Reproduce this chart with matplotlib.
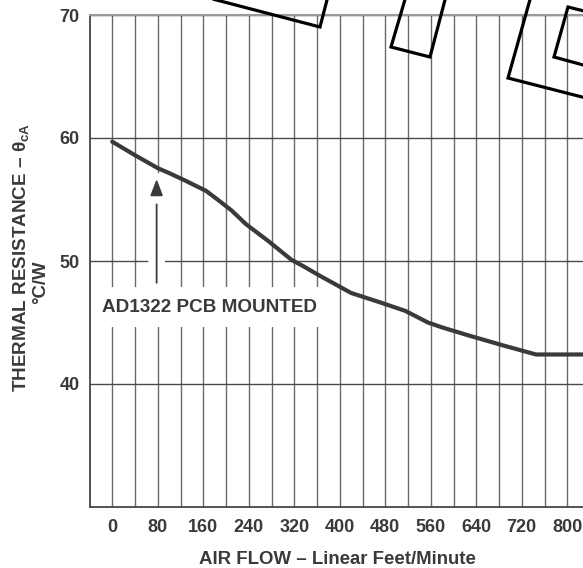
import matplotlib
matplotlib.use("Agg")
import matplotlib.pyplot as plt
from matplotlib.patches import Polygon
import matplotlib.patheffects as pe

# ---- data ----
air_flow = [0, 40, 80, 100, 130, 165, 185, 210, 235, 275, 315, 335, 365, 420,
            470, 515, 555, 580, 630, 690, 745, 880]
theta_ca = [59.7, 58.6, 57.55, 57.15, 56.5, 55.7, 55.0, 54.1, 53.0, 51.6, 50.1,
            49.6, 48.8, 47.4, 46.65, 45.95, 45.0, 44.6, 43.9, 43.1, 42.4, 42.4]
x_tick_labels = [0, 80, 160, 240, 320, 400, 480, 560, 640, 720, 800]
y_tick_labels = [40, 50, 60, 70]
annotation_text = "AD1322 PCB MOUNTED"
annotation_xy = (78, 56.9)
annotation_text_xy = (171, 46.25)

# decorative outline shapes overlaid on the scan (figure pixel coords)
overlay_shapes = [
    [(205, -3), (320, 27), (328, -4)],
    [(406, -4), (391, 47), (430, 57), (446, -4)],
    [(531, -4), (508, 78), (660, 117)],
    [(620, 20), (568, 7), (554, 57), (620, 75)],
]

W, H = 583, 568
plt.rcParams['font.family'] = ['Liberation Sans', 'DejaVu Sans']
plt.rcParams['mathtext.fontset'] = 'custom'
plt.rcParams['mathtext.rm'] = 'Liberation Sans:bold'
plt.rcParams['mathtext.it'] = 'Liberation Sans:bold'
plt.rcParams['mathtext.bf'] = 'Liberation Sans:bold'

fig = plt.figure(figsize=(W / 100, H / 100), dpi=100)
fig.patch.set_facecolor('white')

left_px, top_px, bottom_px = 89.5, 15, 507
xmin, xmax = -40, 880
px_per_unit = 22.75 / 40
right_px = left_px + (xmax - xmin) * px_per_unit
ax = fig.add_axes([left_px / W, (H - bottom_px) / H,
                   (right_px - left_px) / W, (bottom_px - top_px) / H])
ax.set_xlim(xmin, xmax)
ax.set_ylim(30, 70)

txt_color = '#3a3a3a'
ax.set_xticks(x_tick_labels)
ax.set_xticklabels([str(v) for v in x_tick_labels])
ax.set_xticks([v + 40 for v in x_tick_labels], minor=True)
ax.set_yticks(y_tick_labels)
ax.set_yticklabels([str(v) for v in y_tick_labels])
ax.tick_params(axis='both', which='both', length=0, labelsize=13,
               labelcolor=txt_color)
ax.tick_params(axis='x', pad=8.5)
ax.tick_params(axis='y', pad=7)
for lab in ax.get_xticklabels() + ax.get_yticklabels():
    lab.set_fontweight('bold')

ax.grid(True, which='both', axis='x', color='#6a6a6a', linewidth=1.0)
ax.grid(True, which='major', axis='y', color='#4a4a4a', linewidth=1.0)
ax.set_axisbelow(True)

for s in ['left', 'bottom']:
    ax.spines[s].set_color('#444444')
    ax.spines[s].set_linewidth(1.3)
ax.spines['top'].set_color('#999999')
ax.spines['top'].set_linewidth(1.5)
ax.spines['right'].set_visible(False)

ax.plot(air_flow, theta_ca, color='#3a3a3a', linewidth=3.0,
        solid_capstyle='round', solid_joinstyle='round', zorder=5)

ax.annotate('', xy=annotation_xy, xytext=(annotation_xy[0], 48.0),
            arrowprops=dict(arrowstyle='-|>,head_length=1.0,head_width=0.38',
                            color='#3a3a3a', linewidth=1.3,
                            path_effects=[pe.withStroke(linewidth=12, foreground='white')]),
            zorder=4)
ax.text(annotation_text_xy[0], annotation_text_xy[1], annotation_text,
        ha='center', va='center', fontsize=13.6, fontweight='bold', color=txt_color,
        bbox=dict(boxstyle='square,pad=0.6', facecolor='white', edgecolor='none'),
        zorder=6)

fig.text(337 / W, 1 - 559 / H, 'AIR FLOW – Linear Feet/Minute', ha='center',
         va='center', fontsize=13.4, fontweight='bold', color=txt_color)
fig.text(21 / W, 1 - 257 / H, 'THERMAL RESISTANCE – θ$_{\\mathrm{cA}}$',
         ha='center', va='center', rotation=90, fontsize=13.6, fontweight='bold',
         color=txt_color)
fig.text(41 / W, 1 - 282 / H, '°C/W', ha='center', va='center', rotation=90,
         fontsize=13.4, fontweight='bold', color=txt_color)

for shape in overlay_shapes:
    pts = [(x / W, 1 - y / H) for x, y in shape]
    fig.add_artist(Polygon(pts, closed=False, fill=False, edgecolor='black',
                           linewidth=2.3, transform=fig.transFigure,
                           joinstyle='miter', zorder=10))

fig.savefig('out.png', dpi=100, facecolor='white')
